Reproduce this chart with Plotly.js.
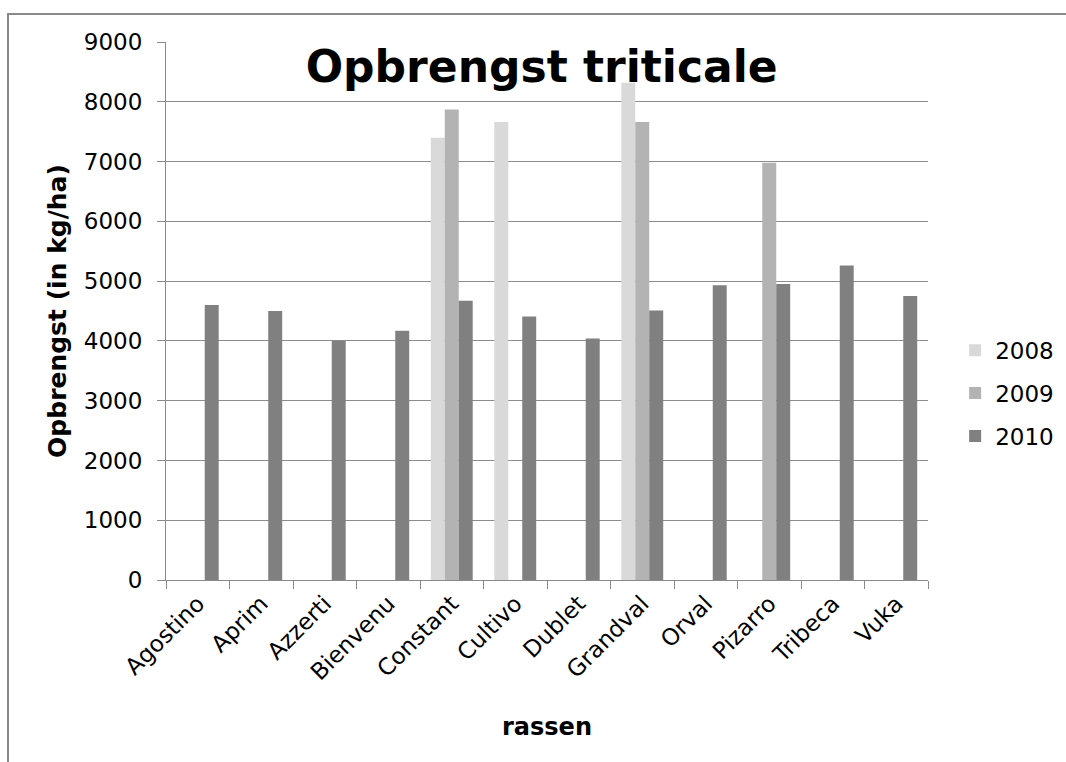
<!DOCTYPE html>
<html>
<head>
<meta charset="utf-8">
<script src="https://cdn.plot.ly/plotly-3.0.1.min.js"></script>
<style>
html,body{margin:0;padding:0;background:#fff;}
#wrap{position:relative;width:1066px;height:762px;overflow:hidden;}
#chart{width:1066px;height:762px;}
#frame{position:absolute;left:7px;top:13px;width:1100px;height:800px;border:2px solid #8a8a8a;pointer-events:none;}
</style>
</head>
<body>
<div id="wrap"><div id="chart"></div><div id="frame"></div></div>
<script>
const categories = ["Agostino","Aprim","Azzerti","Bienvenu","Constant","Cultivo","Dublet","Grandval","Orval","Pizarro","Tribeca","Vuka"];
const years = ["2008","2009","2010"];
const values2008 = [null,null,null,null,7400,7660,null,8320,null,null,null,null];
const values2009 = [null,null,null,null,7870,null,null,7660,null,6980,null,null];
const values2010 = [4600,4500,4000,4170,4670,4410,4040,4510,4930,4950,5260,4750];
const colors = ["#d9d9d9","#b3b3b3","#808080"];
const yTicks = [0,1000,2000,3000,4000,5000,6000,7000,8000,9000];

const font = "DejaVu Sans, Verdana, sans-serif";
const series = [values2008, values2009, values2010];
const data = series.map((v,i)=>({
  type:"bar", name:years[i], x:categories, y:v,
  marker:{color:colors[i]}, legendgroup:"g"+i, hoverinfo:"x+y"
}));

const layout = {
  width:1066, height:762,
  margin:{l:166, r:138, t:42, b:182},
  paper_bgcolor:"#fff", plot_bgcolor:"#fff",
  font:{family:font, size:23, color:"#000"},
  barmode:"group", bargap:0.34, bargroupgap:0,
  title:{text:"<b>Opbrengst triticale</b>", font:{family:font, size:44, color:"#000"},
    xref:"paper", x:0.493, xanchor:"center", yref:"container", y:0.913, yanchor:"middle"},
  xaxis:{type:"category", tickangle:-45, tickson:"boundaries", ticks:"outside", ticklen:8,
    tickcolor:"#8a8a8a", showline:true, linecolor:"#8a8a8a", linewidth:1, showgrid:false,
    automargin:false,
    tickfont:{family:font, size:23, color:"#000"},
    title:{text:"<b>rassen</b>", font:{family:font, size:24, color:"#000"}, standoff:34}},
  yaxis:{range:[0,9000], tickvals:yTicks, ticktext:yTicks.map(String), ticks:"outside", ticklen:8,
    tickcolor:"#8a8a8a", showline:true, linecolor:"#8a8a8a", linewidth:1,
    showgrid:true, gridcolor:"#8c8c8c", gridwidth:1, zeroline:false,
    automargin:false, ticklabelstandoff:10,
    tickfont:{family:font, size:23, color:"#000"},
    title:{text:"<b>Opbrengst (in kg/ha)</b>", font:{family:font, size:25, color:"#000"}, standoff:10}},
  legend:{xref:"container", x:0.896, xanchor:"left", yref:"container", y:0.484, yanchor:"middle",
    traceorder:"grouped", tracegroupgap:10,
    font:{family:font, size:23, color:"#000"}, itemwidth:30},
  showlegend:true
};
Plotly.newPlot("chart", data, layout, {displayModeBar:false, staticPlot:true});
</script>
</body>
</html>
